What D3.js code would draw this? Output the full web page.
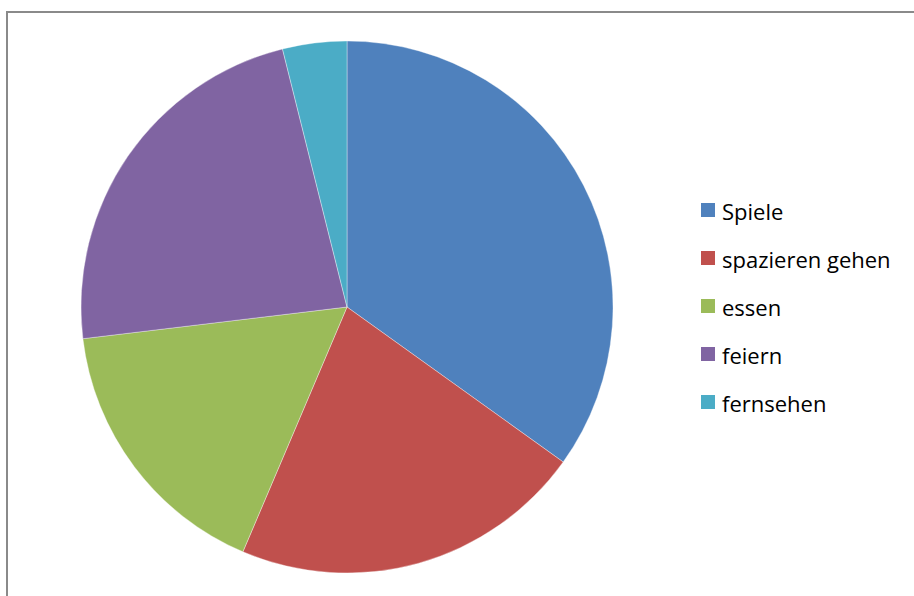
<!DOCTYPE html>
<html>
<head>
<meta charset="utf-8">
<script src="https://cdn.jsdelivr.net/npm/d3@7"></script>
<style>
  html, body { margin: 0; padding: 0; background: #fff; }
  svg { display: block; }
  text { font-family: "Open Sans", "Noto Sans", sans-serif; }
</style>
</head>
<body>
<svg id="chart" width="914" height="596"></svg>
<script>

// categories and their shares (percent)
var categories = ["Spiele", "spazieren gehen", "essen", "feiern", "fernsehen"];
var values = [34.9, 21.5, 16.7, 23.0, 3.9];
var colors = ["#4F81BD", "#C0504D", "#9BBB59", "#8064A2", "#4BACC6"];

var width = 914, height = 596;
var cx = 347, cy = 307, radius = 266;

var svg = d3.select("#chart");

// chart frame (runs off the right and bottom edge like the original)
svg.append("rect")
    .attr("x", 7)
    .attr("y", 12)
    .attr("width", 930)
    .attr("height", 620)
    .attr("fill", "#fff")
    .attr("stroke", "#8a8a8a")
    .attr("stroke-width", 2);

var data = categories.map((c, i) => ({ name: c, value: values[i] }));

var color = d3.scaleOrdinal()
    .domain(categories)
    .range(colors);

var pie = d3.pie()
    .value(d => d.value)
    .sort(null);

var arc = d3.arc()
    .innerRadius(0)
    .outerRadius(radius);

svg.append("g")
    .attr("transform", `translate(${cx}, ${cy})`)
  .selectAll("path")
    .data(pie(data))
    .join("path")
      .attr("d", arc)
      .attr("fill", d => color(d.data.name))
      .attr("stroke", "#fff")
      .attr("stroke-opacity", 0.6)
      .attr("stroke-width", 0.6);

// legend
var legend = svg.append("g")
    .attr("transform", "translate(701, 203)");

var rowStep = 48;

var item = legend.selectAll("g")
    .data(categories)
    .join("g")
      .attr("transform", (d, i) => `translate(0, ${i * rowStep})`);

item.append("rect")
    .attr("width", 14)
    .attr("height", 14)
    .attr("fill", d => color(d));

item.append("text")
    .attr("x", 21)
    .attr("y", 16.5)
    .attr("font-size", 22)
    .attr("fill", "#000")
    .text(d => d);

</script>
</body>
</html>
